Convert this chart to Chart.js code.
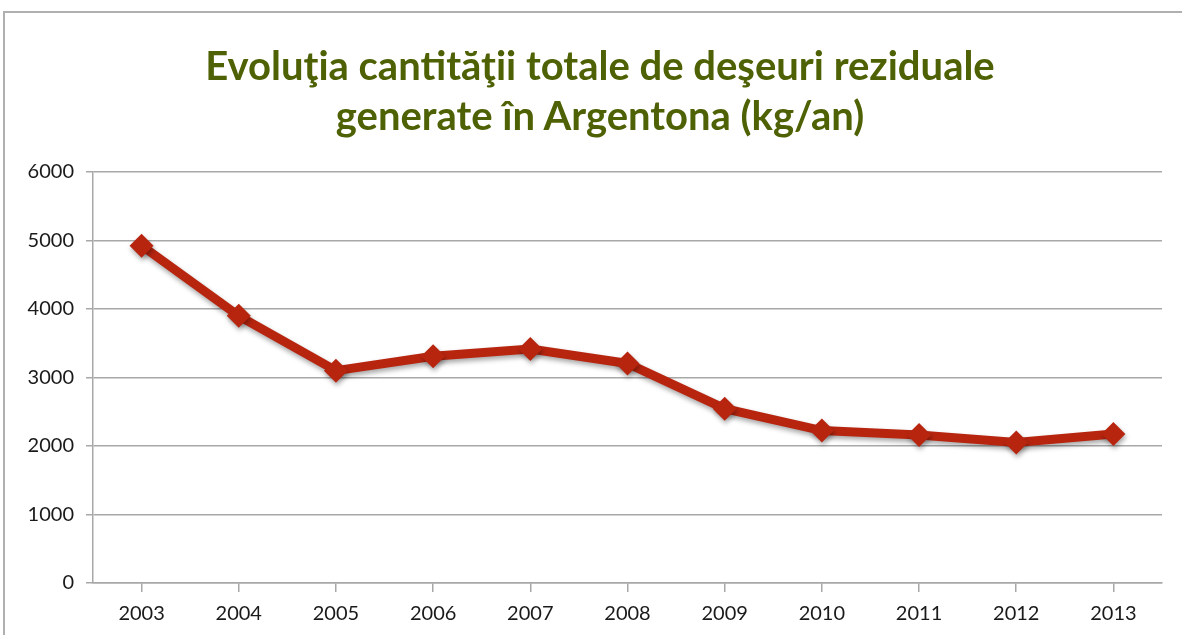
<!DOCTYPE html>
<html>
<head>
<meta charset="utf-8">
<script src="https://cdn.jsdelivr.net/npm/chart.js@4/dist/chart.umd.min.js"></script>
<style>
  html, body { margin: 0; padding: 0; background: #fff; overflow: hidden; }
  #frame {
    position: absolute; left: 3px; top: 11px; width: 1200px; height: 640px;
    border-left: 2px solid #b0b0b0; border-top: 2px solid #b0b0b0;
  }
  #wrap { position: absolute; left: 0; top: 0; width: 1182px; height: 635px; }
  #titlu {
    position: absolute; left: 0; top: 40px; width: 1200px; text-align: center;
    font-family: 'Lato', sans-serif; font-weight: bold; font-size: 40px; line-height: 50px;
    color: #4e6104; white-space: nowrap;
  }
</style>
</head>
<body>
<div id="frame"></div>
<div id="wrap"><canvas id="grafic"></canvas></div>
<div id="titlu"></div>
<script>
// Date
const ani = ['2003', '2004', '2005', '2006', '2007', '2008', '2009', '2010', '2011', '2012', '2013'];
const deseuri = [4925, 3900, 3100, 3310, 3415, 3205, 2545, 2225, 2160, 2050, 2175];
const titlu = ['Evoluţia cantităţii totale de deşeuri reziduale', 'generate în Argentona (kg/an)'];

const culoareLinie = '#b8250f';
const culoareGrila = '#a8a8a8';

// titlul e text HTML, centrat putin mai la dreapta decat zona graficului
const elTitlu = document.getElementById('titlu');
titlu.forEach(function(linie, i) {
    if (i > 0) elTitlu.appendChild(document.createElement('br'));
    elTitlu.appendChild(document.createTextNode(linie));
});

// umbra sub linie, ca in original
const umbra = {
    id: 'umbra',
    beforeDatasetDraw(chart) {
        const ctx = chart.ctx;
        ctx.save();
        ctx.shadowColor = 'rgba(0,0,0,0.35)';
        ctx.shadowBlur = 5;
        ctx.shadowOffsetX = 1;
        ctx.shadowOffsetY = 3;
    },
    afterDatasetDraw(chart) {
        chart.ctx.restore();
    }
};

const ctx = document.getElementById('grafic').getContext('2d');
new Chart(ctx, {
    type: 'line',
    data: {
        labels: ani,
        datasets: [{
            data: deseuri,
            borderColor: culoareLinie,
            backgroundColor: culoareLinie,
            borderWidth: 9,
            pointStyle: 'rectRot',
            pointRadius: 12,
            pointHoverRadius: 12,
            pointBorderWidth: 0,
            tension: 0
        }]
    },
    options: {
        responsive: true,
        maintainAspectRatio: false,
        animation: false,
        layout: { padding: { left: 0, right: 20, top: 172, bottom: 0 } },
        plugins: {
            legend: { display: false },
            tooltip: { enabled: false },
            title: { display: false }
        },
        scales: {
            x: {
                offset: true,
                grid: { display: true, drawOnChartArea: false, color: culoareGrila, tickLength: 9, lineWidth: 1.5 },
                border: { color: culoareGrila, width: 1.5 },
                ticks: { color: '#1a1a1a', font: { family: 'Lato', size: 20 }, padding: 10, maxRotation: 0 },
                afterFit(scale) { scale.height = 52; }
            },
            y: {
                min: 0, max: 6000,
                ticks: {
                    stepSize: 1000, color: '#1a1a1a', font: { family: 'Lato', size: 20 }, padding: 12,
                    callback: v => String(v)
                },
                grid: { color: culoareGrila, tickLength: 7, lineWidth: 1.5 },
                border: { color: culoareGrila, width: 1.5 },
                afterFit(scale) { scale.width = 93; }
            }
        }
    },
    plugins: [umbra]
});
</script>
</body>
</html>
